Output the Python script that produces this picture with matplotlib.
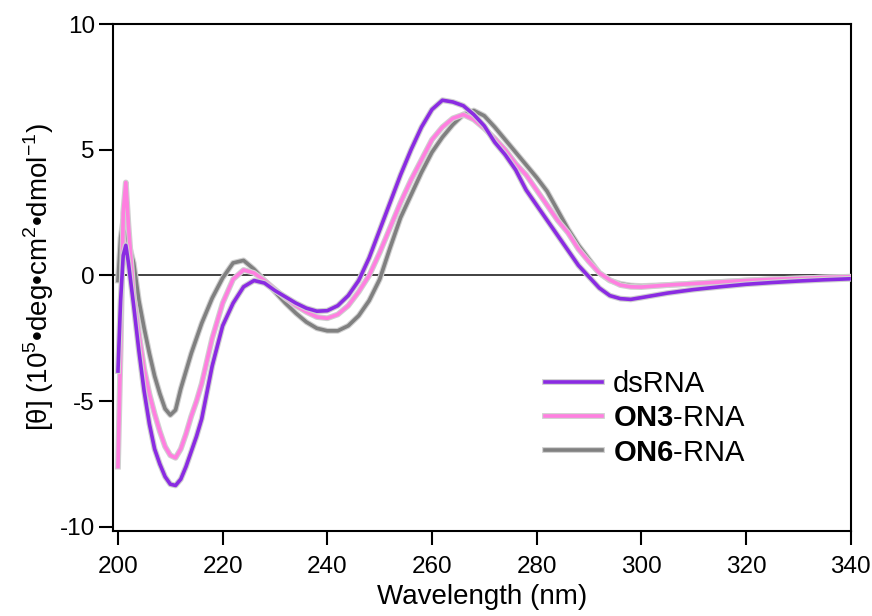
import numpy as np
import matplotlib
matplotlib.use("Agg")
import matplotlib.pyplot as plt
import matplotlib.patheffects as pe

plt.rcParams['font.family'] = ['Liberation Sans', 'DejaVu Sans']
plt.rcParams['axes.unicode_minus'] = False
plt.rcParams['mathtext.fontset'] = 'custom'
plt.rcParams['mathtext.rm'] = 'Liberation Sans'
plt.rcParams['mathtext.bf'] = 'Liberation Sans:bold'

# wavelength grid (nm)
wl = [200, 200.5, 201, 201.5, 202, 203, 204, 205, 206, 207, 208, 209, 210, 211,
      212, 213, 214, 215, 216, 218, 220, 222, 224, 226, 228, 230, 232, 234, 236,
      238, 240, 242, 244, 246, 248, 250, 252, 254, 256, 258, 260, 262, 264, 266,
      268, 270, 272, 274, 276, 278, 280, 282, 284, 286, 288, 290, 292, 294, 296,
      298, 300, 305, 310, 315, 320, 325, 330, 335, 340]

dsRNA = [-3.8, -1.0, 0.8, 1.2, 0.5, -1.2, -3.0, -4.6, -5.9, -6.9, -7.5, -8.0, -8.3, -8.35,
         -8.1, -7.6, -7.0, -6.4, -5.7, -3.6, -2.0, -1.1, -0.45, -0.2, -0.3, -0.6, -0.85, -1.1, -1.3,
         -1.42, -1.4, -1.2, -0.8, -0.2, 0.7, 1.8, 2.9, 4.0, 5.0, 5.9, 6.6, 6.97, 6.9, 6.75,
         6.4, 5.95, 5.3, 4.8, 4.2, 3.4, 2.8, 2.2, 1.6, 1.0, 0.4, -0.05, -0.5, -0.8, -0.92,
         -0.95, -0.88, -0.7, -0.56, -0.45, -0.35, -0.28, -0.22, -0.17, -0.13]

on3 = [-7.6, -3.0, 2.5, 3.7, 2.0, -0.8, -2.3, -3.7, -4.7, -5.5, -6.2, -6.8, -7.15, -7.25,
       -6.9, -6.3, -5.6, -5.0, -4.3, -2.5, -1.1, -0.15, 0.22, 0.1, -0.2, -0.55, -0.9, -1.2, -1.45,
       -1.65, -1.7, -1.55, -1.2, -0.65, 0.0, 0.9, 1.9, 2.9, 3.8, 4.6, 5.4, 5.9, 6.25, 6.4,
       6.2, 5.85, 5.45, 5.0, 4.45, 4.0, 3.4, 2.8, 2.2, 1.7, 1.05, 0.55, 0.1, -0.18, -0.38,
       -0.45, -0.46, -0.38, -0.32, -0.26, -0.2, -0.15, -0.12, -0.08, -0.05]

on6 = [-0.2, 1.5, 2.2, 2.0, 1.3, 0.5, -1.0, -2.1, -3.1, -4.0, -4.7, -5.3, -5.55, -5.35,
       -4.5, -3.8, -3.1, -2.5, -1.9, -0.9, -0.1, 0.5, 0.6, 0.25, -0.2, -0.65, -1.1, -1.5, -1.85,
       -2.1, -2.2, -2.2, -2.0, -1.6, -1.0, -0.16, 1.1, 2.3, 3.2, 4.1, 4.9, 5.5, 6.0, 6.4,
       6.56, 6.35, 5.9, 5.4, 4.9, 4.4, 3.9, 3.35, 2.6, 1.85, 1.2, 0.65, 0.1, -0.2, -0.33,
       -0.4, -0.42, -0.38, -0.32, -0.26, -0.2, -0.15, -0.12, -0.08, -0.05]

labels = ['dsRNA', r'$\mathbf{ON3}$-RNA', r'$\mathbf{ON6}$-RNA']
colors = ['#8a2be2', '#ff7fe0', '#808080']

fig = plt.figure(figsize=(8.72, 6.16), dpi=100)
ax = fig.add_axes([0.1296, 0.138, 0.8464, 0.823])

halo = [pe.Stroke(linewidth=4.2, foreground='#d0d0d0'), pe.Normal()]
ax.axhline(0, color='#333333', lw=1.3, zorder=1)
lines = {}
for ys, lab, c, z in [(on6, labels[2], colors[2], 2), (on3, labels[1], colors[1], 3),
                      (dsRNA, labels[0], colors[0], 4)]:
    ln, = ax.plot(wl, ys, color=c, lw=2.6, label=lab, zorder=z, path_effects=halo)
    lines[lab] = ln

ax.set_xlim(199.05, 340.1)
ax.set_ylim(-10.16, 10.0)
ax.set_xticks(np.arange(200, 341, 20))
ax.set_yticks([-10, -5, 0, 5, 10])
ax.tick_params(direction='out', length=10, width=1.5, labelsize=17.5)
ax.tick_params(axis='x', pad=8)
ax.tick_params(axis='y', pad=3)
for s in ax.spines.values():
    s.set_linewidth(1.5)

ax.set_xlabel('Wavelength (nm)', fontsize=20, labelpad=4)
ax.set_ylabel(r'[θ] (10$^5$•deg•cm$^2$•dmol$^{-1}$)', fontsize=20)
ax.yaxis.set_label_coords(-0.077, 0.5)

leg = ax.legend([lines[l] for l in labels], labels, loc='upper left',
                bbox_to_anchor=(0.585, 0.318), frameon=False, fontsize=21,
                borderpad=0, borderaxespad=0,
                handlelength=1.95, handletextpad=0.38, labelspacing=0.22)

fig.savefig('out.png', dpi=100)
